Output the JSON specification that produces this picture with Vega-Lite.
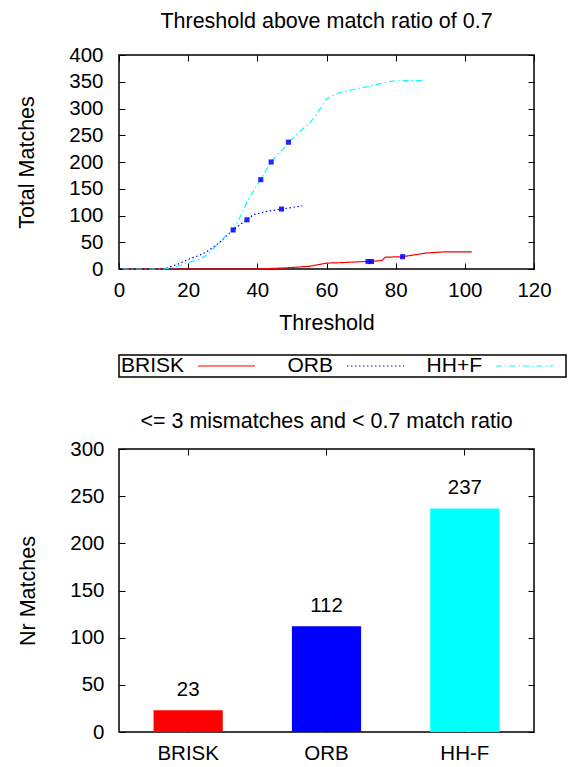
{
  "$schema": "https://vega.github.io/schema/vega-lite/v6.json",
  "background": "white",
  "padding": {"left": 16, "top": 9, "right": 0, "bottom": 0},
  "config": {
    "font": "Liberation Sans",
    "view": {"stroke": "#000000", "strokeWidth": 1.5},
    "axis": {"domain": false, "grid": false, "ticks": true, "tickSize": -6, "tickColor": "#000000", "tickWidth": 1, "labelFontSize": 20.5, "labelColor": "#000000", "titleFontSize": 21.5, "titleFontWeight": "normal", "titleColor": "#000000", "labelFlush": false},
    "title": {"fontSize": 21.5, "fontWeight": "normal", "color": "#000000", "anchor": "middle"},
    "text": {"font": "Liberation Sans", "color": "#000000"}
  },
  "datasets": {
    "curves": [
      {"method": "BRISK", "threshold": 1, "matches": 0},
      {"method": "BRISK", "threshold": 40, "matches": 0},
      {"method": "BRISK", "threshold": 48, "matches": 2},
      {"method": "BRISK", "threshold": 55, "matches": 5},
      {"method": "BRISK", "threshold": 60, "matches": 11},
      {"method": "BRISK", "threshold": 65, "matches": 12},
      {"method": "BRISK", "threshold": 71, "matches": 14},
      {"method": "BRISK", "threshold": 73, "matches": 14},
      {"method": "BRISK", "threshold": 76, "matches": 16},
      {"method": "BRISK", "threshold": 77, "matches": 22},
      {"method": "BRISK", "threshold": 82, "matches": 23},
      {"method": "BRISK", "threshold": 86, "matches": 27},
      {"method": "BRISK", "threshold": 89, "matches": 30},
      {"method": "BRISK", "threshold": 94, "matches": 32},
      {"method": "BRISK", "threshold": 102, "matches": 32},
      {"method": "ORB", "threshold": 1, "matches": 0},
      {"method": "ORB", "threshold": 12, "matches": 0},
      {"method": "ORB", "threshold": 14, "matches": 2},
      {"method": "ORB", "threshold": 17, "matches": 9},
      {"method": "ORB", "threshold": 20, "matches": 18},
      {"method": "ORB", "threshold": 23, "matches": 25},
      {"method": "ORB", "threshold": 25, "matches": 31},
      {"method": "ORB", "threshold": 28, "matches": 44},
      {"method": "ORB", "threshold": 30, "matches": 55},
      {"method": "ORB", "threshold": 33, "matches": 73},
      {"method": "ORB", "threshold": 35, "matches": 83},
      {"method": "ORB", "threshold": 37, "matches": 92},
      {"method": "ORB", "threshold": 39, "matches": 102},
      {"method": "ORB", "threshold": 41, "matches": 105},
      {"method": "ORB", "threshold": 43, "matches": 108},
      {"method": "ORB", "threshold": 45, "matches": 110},
      {"method": "ORB", "threshold": 47, "matches": 112},
      {"method": "ORB", "threshold": 50, "matches": 115},
      {"method": "ORB", "threshold": 53, "matches": 118},
      {"method": "HH+F", "threshold": 1, "matches": 0},
      {"method": "HH+F", "threshold": 13, "matches": 0},
      {"method": "HH+F", "threshold": 16, "matches": 3},
      {"method": "HH+F", "threshold": 20, "matches": 12},
      {"method": "HH+F", "threshold": 23, "matches": 18},
      {"method": "HH+F", "threshold": 25, "matches": 24},
      {"method": "HH+F", "threshold": 27, "matches": 36},
      {"method": "HH+F", "threshold": 29, "matches": 49},
      {"method": "HH+F", "threshold": 31, "matches": 63},
      {"method": "HH+F", "threshold": 33, "matches": 73},
      {"method": "HH+F", "threshold": 35, "matches": 97},
      {"method": "HH+F", "threshold": 37, "matches": 125},
      {"method": "HH+F", "threshold": 39, "matches": 148},
      {"method": "HH+F", "threshold": 41, "matches": 167},
      {"method": "HH+F", "threshold": 43, "matches": 190},
      {"method": "HH+F", "threshold": 44, "matches": 200},
      {"method": "HH+F", "threshold": 46, "matches": 215},
      {"method": "HH+F", "threshold": 48, "matches": 228},
      {"method": "HH+F", "threshold": 49, "matches": 237},
      {"method": "HH+F", "threshold": 52, "matches": 255},
      {"method": "HH+F", "threshold": 55, "matches": 272},
      {"method": "HH+F", "threshold": 57, "matches": 288},
      {"method": "HH+F", "threshold": 59, "matches": 308},
      {"method": "HH+F", "threshold": 60, "matches": 318},
      {"method": "HH+F", "threshold": 62, "matches": 325},
      {"method": "HH+F", "threshold": 64, "matches": 330},
      {"method": "HH+F", "threshold": 68, "matches": 336},
      {"method": "HH+F", "threshold": 72, "matches": 341},
      {"method": "HH+F", "threshold": 76, "matches": 347},
      {"method": "HH+F", "threshold": 79, "matches": 351},
      {"method": "HH+F", "threshold": 83, "matches": 352},
      {"method": "HH+F", "threshold": 88, "matches": 352}
    ],
    "markers": [
      {"method": "HH+F", "threshold": 33, "matches": 73},
      {"method": "HH+F", "threshold": 41, "matches": 167},
      {"method": "HH+F", "threshold": 44, "matches": 200},
      {"method": "HH+F", "threshold": 49, "matches": 237},
      {"method": "ORB", "threshold": 37, "matches": 92},
      {"method": "ORB", "threshold": 47, "matches": 112},
      {"method": "BRISK", "threshold": 72, "matches": 14},
      {"method": "BRISK", "threshold": 73, "matches": 14},
      {"method": "BRISK", "threshold": 82, "matches": 23}
    ],
    "legendItems": [
      {"method": "BRISK"},
      {"method": "ORB"},
      {"method": "HH+F"}
    ],
    "bars": [
      {"method": "BRISK", "matches": 23},
      {"method": "ORB", "matches": 112},
      {"method": "HH-F", "matches": 237}
    ]
  },
  "vconcat": [
    {
      "spacing": 19,
      "vconcat": [
        {
          "width": 415,
          "height": 214,
          "title": {"text": "Threshold above match ratio of 0.7", "offset": 13},
          "layer": [
            {
              "data": {"name": "curves"},
              "mark": {"type": "line", "strokeWidth": 1.2},
              "encoding": {
                "x": {"field": "threshold", "type": "quantitative", "scale": {"domain": [0, 120], "nice": false},
                      "axis": {"title": "Threshold", "orient": "bottom", "values": [0, 20, 40, 60, 80, 100, 120], "labelPadding": 17, "labelDx": 3, "titlePadding": 12}},
                "y": {"field": "matches", "type": "quantitative", "scale": {"domain": [0, 400], "nice": false},
                      "axis": {"title": "Total Matches", "orient": "left", "values": [0, 50, 100, 150, 200, 250, 300, 350, 400], "labelPadding": 22, "labelDy": 2, "titlePadding": 30}},
                "color": {"field": "method", "type": "nominal", "scale": {"domain": ["BRISK", "ORB", "HH+F"], "range": ["#ff0000", "#0000ff", "#00ffff"]}, "legend": null},
                "strokeDash": {"field": "method", "type": "nominal", "scale": {"domain": ["BRISK", "ORB", "HH+F"], "range": [[1, 0], [1.5, 2.5], [6, 3, 1.5, 3]]}, "legend": null}
              }
            },
            {
              "data": {"name": "markers"},
              "mark": {"type": "point", "shape": "square", "filled": true, "size": 26, "color": "#0000ff", "opacity": 0.85},
              "encoding": {
                "x": {"field": "threshold", "type": "quantitative",
                      "axis": {"orient": "top", "labels": false, "title": null, "values": [0, 20, 40, 60, 80, 100, 120]}},
                "y": {"field": "matches", "type": "quantitative",
                      "axis": {"orient": "right", "labels": false, "title": null, "values": [0, 50, 100, 150, 200, 250, 300, 350, 400]}}
              }
            }
          ],
          "resolve": {"axis": {"x": "independent", "y": "independent"}}
        },
        {
          "width": 447,
          "height": 22,
          "data": {"name": "legendItems"},
          "layer": [
            {
              "mark": {"type": "text", "align": "right", "xOffset": 65, "fontSize": 21},
              "encoding": {
                "x": {"field": "method", "type": "nominal", "bandPosition": 0, "sort": null,
                      "scale": {"type": "band", "domain": ["BRISK", "ORB", "HH+F"], "paddingInner": 0, "paddingOuter": 0}, "axis": null},
                "text": {"field": "method"}
              }
            },
            {
              "mark": {"type": "rule", "xOffset": 79, "x2Offset": 61.5, "strokeWidth": 1.2},
              "encoding": {
                "x": {"field": "method", "type": "nominal", "bandPosition": 0, "axis": null},
                "x2": {"field": "method"},
                "color": {"field": "method", "type": "nominal", "scale": {"domain": ["BRISK", "ORB", "HH+F"], "range": ["#ff0000", "#0000ff", "#00ffff"]}, "legend": null},
                "strokeDash": {"field": "method", "type": "nominal", "scale": {"domain": ["BRISK", "ORB", "HH+F"], "range": [[1, 0], [1.5, 2.5], [6, 3, 1.5, 3]]}, "legend": null}
              }
            }
          ]
        }
      ]
    },
    {
      "width": 415,
      "height": 283,
      "title": {"text": "<= 3 mismatches and < 0.7 match ratio", "offset": 7},
      "data": {"name": "bars"},
      "layer": [
        {
          "mark": {"type": "bar"},
          "encoding": {
            "x": {"field": "method", "type": "nominal", "sort": null,
                  "scale": {"type": "band", "domain": ["BRISK", "ORB", "HH-F"], "paddingInner": 0.5, "paddingOuter": 0.25},
                  "axis": {"title": null, "orient": "bottom", "labelAngle": 0, "labelPadding": 17}},
            "y": {"field": "matches", "type": "quantitative", "scale": {"domain": [0, 300], "nice": false},
                  "axis": {"title": "Nr Matches", "orient": "left", "values": [0, 50, 100, 150, 200, 250, 300], "labelPadding": 21, "labelDy": 1, "titlePadding": 30}},
            "color": {"field": "method", "type": "nominal", "scale": {"domain": ["BRISK", "ORB", "HH-F"], "range": ["#ff0000", "#0000ff", "#00ffff"]}, "legend": null}
          }
        },
        {
          "mark": {"type": "text", "baseline": "alphabetic", "dy": -14.5, "fontSize": 20.5},
          "encoding": {
            "x": {"field": "method", "type": "nominal", "sort": null,
                  "axis": {"orient": "top", "labels": false, "title": null}},
            "y": {"field": "matches", "type": "quantitative",
                  "axis": {"orient": "right", "labels": false, "title": null, "values": [0, 50, 100, 150, 200, 250, 300]}},
            "text": {"field": "matches"}
          }
        }
      ],
      "resolve": {"axis": {"x": "independent", "y": "independent"}}
    }
  ],
  "spacing": 31,
  "resolve": {"scale": {"color": "independent", "strokeDash": "independent"}}
}
